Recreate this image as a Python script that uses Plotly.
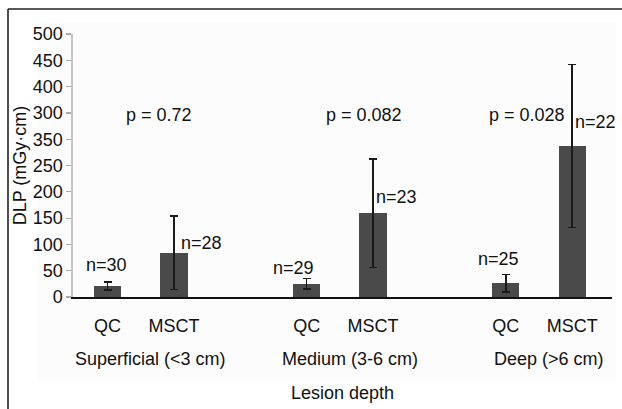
import plotly.graph_objects as go

# ---- data ----
groups = ["Superficial (<3 cm)", "Medium (3-6 cm)", "Deep (>6 cm)"]
methods = ["QC", "MSCT"]
qc_mean = [21, 25, 26]
qc_err = [8, 10, 17]
msct_mean = [84, 159, 287]
msct_err = [70, 103, 155]
qc_n = [30, 29, 25]
msct_n = [28, 23, 22]
p_values = ["0.72", "0.082", "0.028"]
y_tickvals = [0, 50, 100, 150, 200, 250, 300, 350, 400, 450, 500]
y_ticktext = ["0", "50", "100", "150", "200", "250", "350", "300", "400", "450", "500"]

FONT = "Liberation Sans, Arial, sans-serif"
FS = 18
BAR = "#4a4a4a"
W, H = 622, 409
L, R, T, B = 73, 10, 34, 112
PW, PH = W - L - R, H - T - B

step = 3
qc_x = [g * step for g in range(len(groups))]
msct_x = [g * step + 1 for g in range(len(groups))]

fig = go.Figure()
for xs, ys, es in [(qc_x, qc_mean, qc_err), (msct_x, msct_mean, msct_err)]:
    fig.add_trace(go.Bar(
        x=xs, y=ys, width=0.41,
        marker=dict(color=BAR, line=dict(width=0)),
        error_y=dict(type="data", array=es, visible=True, color="#1a1a1a",
                     thickness=1.6, width=4),
        showlegend=False, hoverinfo="skip",
    ))

def px_to_paper_x(px):
    return (px - L) / PW

def px_to_paper_y(py):
    return (H - B - py) / PH

shapes = [
    # faint background panel
    dict(type="rect", xref="paper", yref="paper",
         x0=px_to_paper_x(37), x1=px_to_paper_x(616),
         y0=px_to_paper_y(382), y1=px_to_paper_y(22),
         fillcolor="#fcfcfc", line=dict(width=0), layer="below"),
    # outer frame (top and left)
    dict(type="line", xref="paper", yref="paper",
         x0=px_to_paper_x(8), x1=px_to_paper_x(630),
         y0=px_to_paper_y(9), y1=px_to_paper_y(9),
         line=dict(color="#222", width=1.6)),
    dict(type="line", xref="paper", yref="paper",
         x0=px_to_paper_x(8), x1=px_to_paper_x(8),
         y0=px_to_paper_y(9), y1=px_to_paper_y(420),
         line=dict(color="#222", width=1.6)),
]

ann = []
tf = dict(family=FONT, size=FS, color="#111")
# group labels
for g, name in enumerate(groups):
    ann.append(dict(x=g * step + 0.5, y=0, xref="x", yref="paper", text=name,
                    showarrow=False, xanchor="center", yanchor="middle",
                    xshift=10, yshift=-62, font=tf))
# p values
p_pos = [0.78, 3.87, 6.32]
for g, p in enumerate(p_values):
    ann.append(dict(x=p_pos[g], y=346, xref="x", yref="y", text=f"p = {p}",
                    showarrow=False, xanchor="center", yanchor="middle", font=tf))
# n labels
qc_label_y = [60, 55, 72]
qc_label_dx = [-1, -13, -7]
for g in range(len(groups)):
    ann.append(dict(x=qc_x[g], y=qc_label_y[g], xref="x", yref="y",
                    text=f"n={qc_n[g]}", showarrow=False, xanchor="center",
                    yanchor="middle", xshift=qc_label_dx[g], font=tf))
msct_label_y = [103, 190, 333]
msct_label_dx = [5, 1, 1]
for g in range(len(groups)):
    ann.append(dict(x=msct_x[g], y=msct_label_y[g], xref="x", yref="y",
                    text=f"n={msct_n[g]}", showarrow=False, xanchor="left",
                    yanchor="middle", xshift=msct_label_dx[g], font=tf))

tick_vals = []
tick_text = []
for g in range(len(groups)):
    tick_vals += [qc_x[g], msct_x[g]]
    tick_text += methods

fig.update_layout(
    width=W, height=H,
    margin=dict(l=L, r=R, t=T, b=B, pad=0, autoexpand=False),
    paper_bgcolor="white", plot_bgcolor="rgba(0,0,0,0)",
    font=dict(family=FONT, size=FS, color="#111"),
    bargap=0, shapes=shapes, annotations=ann, hovermode=False,
    xaxis=dict(range=[-0.52, 7.6], tickmode="array", tickvals=tick_vals,
               ticktext=tick_text, showgrid=False, zeroline=False,
               showline=True, linecolor="#111", linewidth=1.6, ticks="",
               ticklabelstandoff=12, automargin=False,
               title=dict(text="Lesion depth", standoff=51,
                          font=dict(family=FONT, size=FS, color="#111"))),
    yaxis=dict(range=[0, 500], tickmode="array", tickvals=y_tickvals,
               ticktext=y_ticktext, showgrid=False, zeroline=False,
               showline=True, linecolor="#c4c4c4", linewidth=1.6,
               ticks="outside", ticklen=5, tickcolor="#aaa", tickwidth=1.2,
               automargin=False,
               title=dict(text="DLP (mGy·cm)", standoff=1,
                          font=dict(family=FONT, size=FS, color="#111"))),
)

fig.write_html("out.html",
               config={"displayModeBar": False, "staticPlot": True},
               post_script="document.body.style.margin='0';"
                           "document.body.style.overflow='hidden';")
